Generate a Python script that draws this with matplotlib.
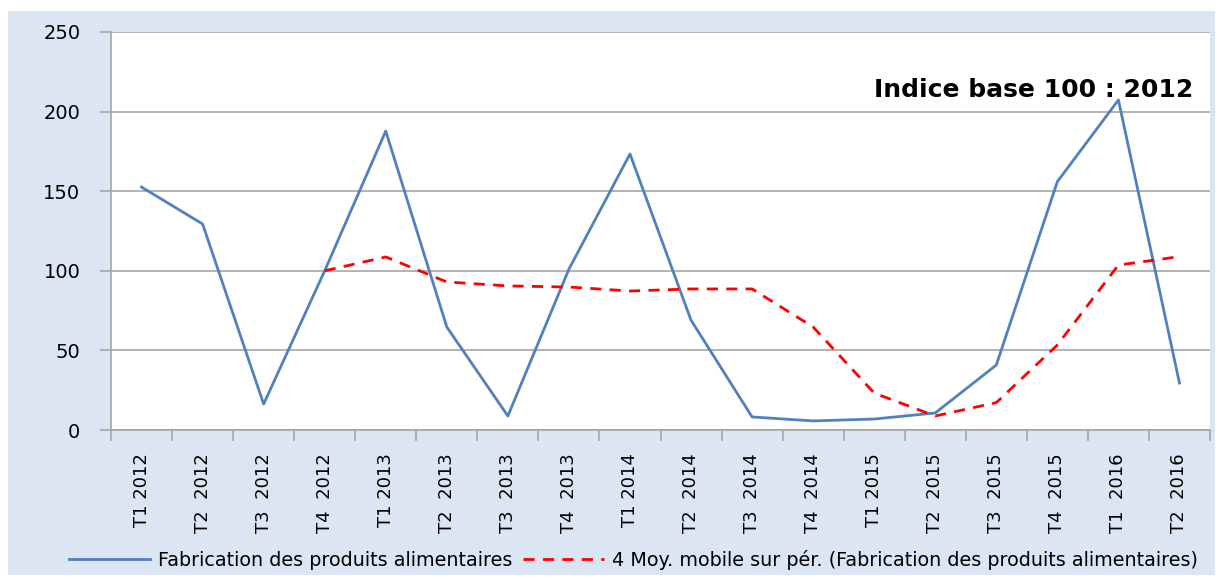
import matplotlib.pyplot as plt
from matplotlib.patches import Rectangle

# quarters (labels keep the double space of the original)
quarters = ['T1 2012', 'T2  2012', 'T3  2012', 'T4  2012',
            'T1 2013', 'T2  2013', 'T3  2013', 'T4  2013',
            'T1 2014', 'T2  2014', 'T3  2014', 'T4  2014',
            'T1 2015', 'T2  2015', 'T3  2015', 'T4  2015',
            'T1  2016', 'T2  2016']

# index values, base 100 : 2012
fabrication = [152.6, 129.4, 16.3, 100.0, 187.8, 64.7, 8.8, 101.0, 173.4,
               69.0, 8.2, 5.7, 6.9, 10.7, 40.8, 156.0, 207.3, 29.5]

# 4-period moving average (starts at T4 2012)
moy_mobile = [None, None, None, 100.0, 108.7, 93.0, 90.5, 89.8, 87.3,
              88.6, 88.6, 64.7, 23.2, 8.8, 17.2, 53.4, 103.6, 108.9]

BG = '#dce6f2'
GRID = '#a6a6a6'

fig = plt.figure(figsize=(12.23, 5.79), dpi=100)
fig.patch.set_facecolor('white')
fig.patches.append(Rectangle((8 / 1223, 4 / 579), 1207 / 1223, 564 / 579,
                             transform=fig.transFigure, facecolor=BG,
                             edgecolor='none', zorder=-1))

ax = fig.add_axes([111 / 1223, 149 / 579, 1099 / 1223, 398 / 579])
ax.set_facecolor('white')

x = list(range(len(quarters)))
ax.plot(x, fabrication, color='#4f81bd', lw=2,
        label='Fabrication des produits alimentaires')
xm = [i for i, v in zip(x, moy_mobile) if v is not None]
ym = [v for v in moy_mobile if v is not None]
ax.plot(xm, ym, color='#ff0000', lw=2, ls=(0, (4, 3)),
        label='4 Moy. mobile sur pér. (Fabrication des produits alimentaires)')

ax.set_xlim(-0.5, len(quarters) - 0.5)
ax.set_ylim(0, 250)
ax.set_yticks([0, 50, 100, 150, 200, 250])
ax.yaxis.grid(True, color=GRID, lw=1.2)
ax.set_axisbelow(True)

ax.set_xticks(x)
ax.set_xticklabels(quarters, rotation=90, fontsize=13, va='top')
ax.set_xticks([i - 0.5 for i in range(len(quarters) + 1)], minor=True)
ax.tick_params(axis='x', which='major', length=0, pad=17)
ax.tick_params(axis='x', which='minor', length=8, color=GRID, width=1.2)
ax.tick_params(axis='y', length=8, color=GRID, width=1.2, labelsize=14, pad=14)

for s in ['top', 'right']:
    ax.spines[s].set_visible(False)
for s in ['left', 'bottom']:
    ax.spines[s].set_color(GRID)
    ax.spines[s].set_linewidth(1.2)

ax.text(0.985, 0.855, 'Indice base 100 : 2012', transform=ax.transAxes,
        ha='right', va='center', fontsize=18, fontweight='bold')

fig.legend(loc='center', bbox_to_anchor=(0.518, 0.033), ncol=2,
           frameon=False, fontsize=13.8, handlelength=4.2, columnspacing=0.6,
           handletextpad=0.4)

fig.savefig('out.png', dpi=100, facecolor=fig.get_facecolor())
